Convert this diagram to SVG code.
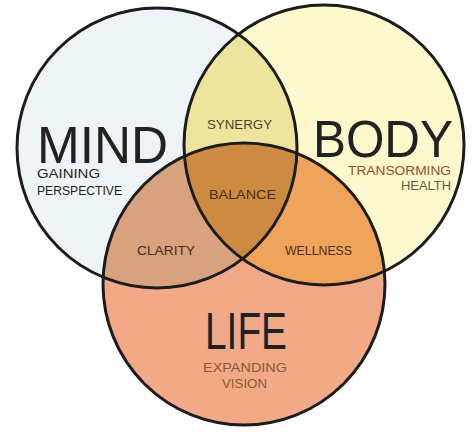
<svg xmlns="http://www.w3.org/2000/svg" width="473" height="432" viewBox="0 0 473 432">
<defs>
<style>
.sans{font-family:"Liberation Sans","DejaVu Sans",sans-serif}
.big{font-size:52px;fill:#222}
.sub{font-size:12.5px}
.lens{font-size:12px}
.ring{fill:none;stroke:#1c1c1c;stroke-width:3}
</style>
<clipPath id="cMind"><circle cx="157" cy="148" r="140"/></clipPath>
<clipPath id="cBody"><circle cx="324" cy="145" r="140"/></clipPath>
<clipPath id="cLife"><circle cx="244" cy="284" r="141"/></clipPath>
</defs>
<rect width="473" height="432" fill="#ffffff"/>
<g id="fills">
<circle cx="157" cy="148" r="140" fill="#eef4f6"/>
<circle cx="324" cy="145" r="140" fill="#fef9cd"/>
<circle cx="244" cy="284" r="141" fill="#f2a987"/>
<g clip-path="url(#cMind)"><circle cx="324" cy="145" r="140" fill="#ede59e"/></g>
<g clip-path="url(#cMind)"><circle cx="244" cy="284" r="141" fill="#d8a27f"/></g>
<g clip-path="url(#cBody)"><circle cx="244" cy="284" r="141" fill="#f0a45b"/></g>
<g clip-path="url(#cMind)"><g clip-path="url(#cBody)"><circle cx="244" cy="284" r="141" fill="#cc8b40"/></g></g>
</g>
<g id="connectors">
<circle class="ring" cx="157" cy="148" r="140"/>
<circle class="ring" cx="324" cy="145" r="140"/>
<circle class="ring" cx="244" cy="284" r="141"/>
</g>
<g id="mind">
<text class="sans big" x="37" y="163" textLength="131" lengthAdjust="spacingAndGlyphs" font-size="54">MIND</text>
<text class="sans sub" x="37" y="178" fill="#222" textLength="63" lengthAdjust="spacingAndGlyphs">GAINING</text>
<text class="sans sub" x="37" y="195" fill="#222" textLength="85" lengthAdjust="spacingAndGlyphs">PERSPECTIVE</text>
</g>
<g id="body">
<text class="sans big" x="313" y="157" textLength="140" lengthAdjust="spacingAndGlyphs" font-size="50">BODY</text>
<text class="sans sub" x="348" y="175" fill="#9c4a2c" textLength="103" lengthAdjust="spacingAndGlyphs">TRANSORMING</text>
<text class="sans sub" x="401" y="190" fill="#5e5e38" textLength="50" lengthAdjust="spacingAndGlyphs">HEALTH</text>
</g>
<g id="life">
<text class="sans big" x="205" y="349" textLength="82" lengthAdjust="spacingAndGlyphs" font-size="50">LIFE</text>
<text class="sans sub" x="203" y="372" fill="#8a5a2e" textLength="84" lengthAdjust="spacingAndGlyphs">EXPANDING</text>
<text class="sans sub" x="222" y="388" fill="#8a5a2e" textLength="45" lengthAdjust="spacingAndGlyphs">VISION</text>
</g>
<g id="synergy"><text class="sans lens" x="207" y="129" fill="#46462a" textLength="65" lengthAdjust="spacingAndGlyphs">SYNERGY</text></g>
<g id="balance"><text class="sans lens" x="209" y="199" fill="#4a2e16" textLength="67" lengthAdjust="spacingAndGlyphs">BALANCE</text></g>
<g id="clarity"><text class="sans lens" x="137" y="255" fill="#4a2c1a" textLength="58" lengthAdjust="spacingAndGlyphs">CLARITY</text></g>
<g id="wellness"><text class="sans lens" x="285" y="255" fill="#4a2c1a" textLength="67" lengthAdjust="spacingAndGlyphs">WELLNESS</text></g>
</svg>
